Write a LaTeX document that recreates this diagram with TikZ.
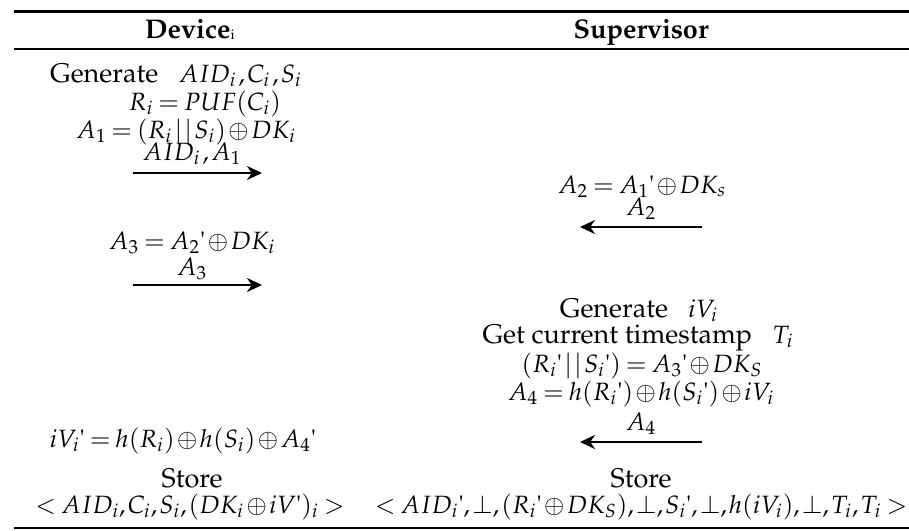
\documentclass[tikz,border=0pt]{standalone}
\usepackage[T1]{fontenc}
\usepackage{mathpazo}
\usetikzlibrary{arrows.meta}
\newcommand\apos{\mbox{\textquotesingle}}
\newcommand\dor{\,|\,|\,}
% formulas: slightly smaller than the running text, with tight operator spacing
\newcommand\m[1]{{\fontsize{12.5}{14}\selectfont\thickmuskip=3.5mu\medmuskip=1.5mu\thinmuskip=1.5mu$#1$}}
\begin{document}
\begin{tikzpicture}[x=0.5pt,y=-0.5pt,
  txt/.style={anchor=base, inner sep=0pt, font=\fontsize{13.5}{15}\selectfont},
  head/.style={anchor=base, inner sep=0pt, font=\fontsize{13.5}{15}\selectfont\bfseries},
  msg/.style={line width=1.25pt, -{Stealth[length=7.5pt,width=7pt,inset=2.4pt]}},
  toprule/.style={line width=1.5pt},
  midrule/.style={line width=1pt}]
\useasboundingbox (0,0) rectangle (909,530);

% table rules
\coordinate (tl) at (14,11);  \coordinate (tr) at (909,11);
\coordinate (ml) at (14,49);  \coordinate (mr) at (909,49);
\coordinate (bl) at (14,528); \coordinate (br) at (909,528);
\draw[toprule] (tl) -- (tr);
\draw[midrule] (ml) -- (mr);
\draw[midrule] (bl) -- (br);

% column headers
\node[head] (hdev) at (190,38) {Device\raisebox{-1pt}{\mdseries\scriptsize i}};
\node[head] (hsup) at (641,38) {Supervisor};

% device: registration request
\node[txt] (d1) at (176,82) {Generate\ \ \ \m{AID_i\,, C_i\,, S_i}};
\node[txt] (d2) at (205,110) {\m{R_i = PUF(C_i)}};
\node[txt] (d3) at (186,138) {\m{A_1 = (R_i\dor S_i)\oplus DK_i}};
\node[txt] (l1) at (192,160) {\m{AID_i\,, A_1}};
\coordinate (m1s) at (133,173); \coordinate (m1e) at (262,173);
\draw[msg] (m1s) -- (m1e);

% supervisor: reply
\node[txt] (s1) at (642,193) {\m{A_2 = A_1\apos\oplus DK_s}};
\node[txt] (l2) at (641,215) {\m{A_2}};
\coordinate (m2s) at (702,227); \coordinate (m2e) at (580,227);
\draw[msg] (m2s) -- (m2e);

% device: answer
\node[txt] (d4) at (192,249) {\m{A_3 = A_2\apos\oplus DK_i}};
\node[txt] (l3) at (192,275) {\m{A_3}};
\coordinate (m3s) at (133,285); \coordinate (m3e) at (262,285);
\draw[msg] (m3s) -- (m3e);

% supervisor: verification and response
\node[txt] (s2) at (639,317) {Generate\ \ \ \m{iV_i}};
\node[txt] (s3) at (638,343) {Get current timestamp\ \ \ \m{T_i}};
\node[txt] (s4) at (642,372) {\m{(R_i\apos\dor S_i\apos) = A_3\apos\oplus DK_S}};
\node[txt] (s5) at (641,400) {\m{A_4 = h(R_i\apos)\oplus h(S_i\apos)\oplus iV_i}};
\node[txt] (l4) at (641,430) {\m{A_4}};
\coordinate (m4s) at (702,442); \coordinate (m4e) at (580,442);
\draw[msg] (m4s) -- (m4e);

% device: final step
\node[txt] (d5) at (183,447) {\m{iV_i\apos = h(R_i)\oplus h(S_i)\oplus A_4\apos}};
\node[txt] (d6) at (192,487) {Store};
\node[txt] (d7) at (190,513) {\m{<AID_i, C_i, S_i, (DK_i\oplus iV\apos)_i>}};

% supervisor: final step
\node[txt] (s6) at (641,487) {Store};
\node[txt] (s7) at (641,513) {\m{<AID_i\apos, \perp, (R_i\apos\oplus DK_S), \perp, S_i\apos, \perp, h(iV_i), \perp, T_i, T_i>}};
\end{tikzpicture}
\end{document}
